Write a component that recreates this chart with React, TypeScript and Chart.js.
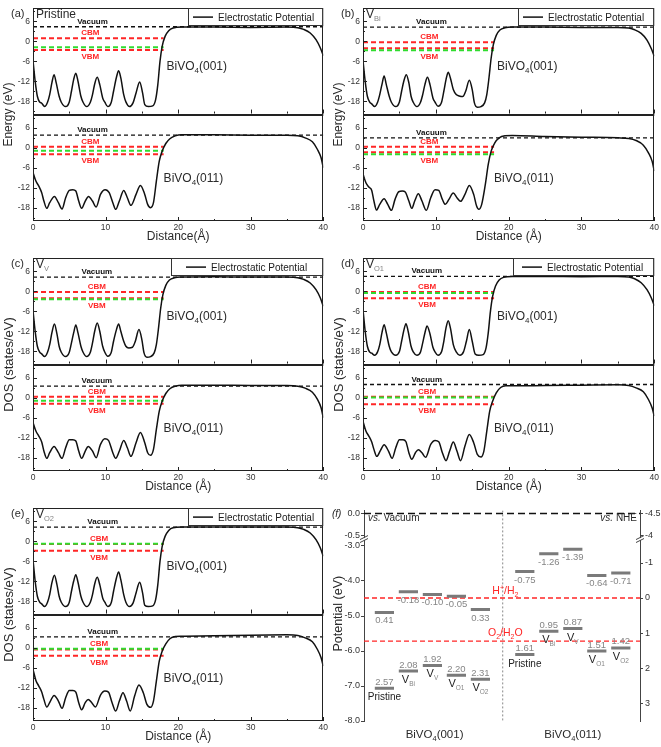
import React, { useEffect, useRef } from 'react';
import { Chart, registerables, LinearScale } from 'chart.js';

Chart.register(...registerables);

const FONT = 'Arial, "Liberation Sans", Helvetica, sans-serif';
const RED = '#ff2626';
const GREEN = '#2fdc2f';
const INK = '#222222';
const GREY = '#858585';

// ---------------- panels (a)-(e): electrostatic potential, x in Å, y in eV ----------------
type Pt = [number, number];
const distanceTicks = [0, 10, 20, 30, 40];
const distanceMinor = [5, 15, 25, 35];
const energyTicks = [-18, -12, -6, 0, 6];
const energyMinor = [-21, -15, -9, -3, 3, 9];
const energyMin = -22;
const energyMax = 10;
const bandEdgeEnd = 18;

const potPristine001: Pt[] = [[0,-5.8],[0.3,-12],[0.6,-16.5],[0.9,-18.2],[1.2,-18.6],[1.6,-19.6],[2.0,-18.3],[2.3,-16],[2.6,-12.5],[2.9,-10.0],[3.2,-12.5],[3.6,-16.5],[3.9,-18.3],[4.5,-19.6],[5.0,-18.2],[5.3,-15],[5.6,-11.5],[5.9,-9.6],[6.2,-12],[6.6,-16.5],[6.9,-18.3],[7.4,-19.6],[7.9,-18.3],[8.2,-16],[8.5,-12.8],[8.85,-10.8],[9.2,-13],[9.6,-17],[9.9,-18.3],[10.3,-19.6],[10.8,-18.2],[11.1,-15],[11.5,-10.8],[11.8,-8.8],[12.1,-11],[12.5,-16],[12.8,-18.2],[13.3,-19.6],[13.8,-18.4],[14.2,-15.5],[14.7,-12.2],[15.1,-15.5],[15.4,-19],[15.9,-19.6],[16.5,-19.4],[16.9,-17.5],[17.2,-13],[17.5,-6],[17.8,-1.5],[18.2,1.5],[18.7,3.2],[19.3,4.0],[20.5,4.3],[25,4.3],[30,4.2],[35,4.3],[36.5,4.1],[37.3,3.6],[38.2,2.5],[39,0.5],[39.6,-2],[40,-4.3]];
const potPristine011: Pt[] = [[0,-7.4],[0.4,-10],[0.8,-11.5],[1.2,-13.5],[1.5,-16],[1.9,-18.2],[2.3,-16.5],[2.95,-14.6],[3.5,-16.5],[4.0,-18.4],[4.5,-15],[5.0,-12.8],[5.5,-12.6],[5.9,-13],[6.3,-16],[6.7,-18.2],[7.2,-16],[7.65,-14.6],[8.2,-16],[8.7,-17.8],[9.3,-14],[9.95,-12.6],[10.5,-13.5],[11.0,-16.5],[11.4,-18.5],[11.9,-16],[12.5,-12.8],[13.0,-15],[13.5,-17.3],[14.2,-14],[14.8,-11.3],[15.4,-14],[15.8,-17],[16.2,-18],[16.6,-16.5],[17.0,-10],[17.4,-4],[17.8,-1],[18.3,1.3],[18.9,2.8],[19.6,3.6],[20.5,3.9],[25,3.9],[30,3.8],[35,3.8],[36.5,3.6],[37.5,3.0],[38.5,1.8],[39.2,-0.5],[39.7,-3],[40,-6]];
const potVBi001: Pt[] = [[0,-5.8],[0.3,-12],[0.6,-16.5],[0.9,-18.2],[1.2,-18.8],[1.6,-19.6],[2.0,-18.3],[2.3,-16],[2.6,-13],[2.9,-10.4],[3.2,-13],[3.6,-16.5],[3.9,-18.3],[4.5,-19.6],[5.0,-18.2],[5.3,-15],[5.6,-12],[5.95,-10.0],[6.3,-12.5],[6.6,-16.5],[6.9,-18.3],[7.4,-19.6],[7.9,-18.3],[8.2,-16],[8.5,-13],[8.85,-10.8],[9.2,-13],[9.6,-17],[9.9,-18.3],[10.3,-19.5],[10.8,-18.2],[11.1,-15],[11.4,-11.5],[11.7,-9.3],[12.0,-11],[12.4,-14.5],[12.8,-16],[13.2,-16.4],[13.7,-16.6],[14.1,-15],[14.6,-11.7],[15.0,-14.5],[15.3,-18.5],[15.7,-19.8],[16.2,-19.6],[16.7,-18.5],[17.0,-16],[17.3,-11],[17.6,-5],[17.9,-1],[18.3,1.8],[18.8,3.4],[19.5,4.1],[20.5,4.3],[25,4.3],[30,4.2],[35,4.2],[36.5,4.0],[37.3,3.5],[38.2,2.4],[39,0.4],[39.6,-2.2],[40,-4.5]];
const potVBi011: Pt[] = [[0,-7.9],[0.4,-10.5],[0.8,-11.8],[1.2,-12.8],[1.5,-16],[1.85,-18.7],[2.3,-17],[2.9,-15.3],[3.4,-17],[3.9,-18.8],[4.4,-15.5],[4.9,-13.2],[5.4,-13],[5.8,-13.3],[6.3,-16],[6.7,-18.2],[7.1,-16],[7.6,-13.8],[8.1,-16],[8.7,-18.8],[9.3,-15],[9.9,-12.6],[10.4,-12.8],[10.9,-15.5],[11.3,-17],[11.8,-15.5],[12.4,-13.6],[12.9,-15],[13.4,-16.1],[14.0,-14],[14.6,-11.3],[15.2,-14],[15.6,-17.5],[15.9,-18.5],[16.3,-17],[16.8,-11],[17.2,-5],[17.6,-1],[18.1,1.5],[18.7,3.0],[19.5,3.6],[20.5,3.7],[25,3.4],[30,3.2],[35,3.0],[36.5,2.8],[37.5,2.2],[38.5,0.8],[39.2,-1.5],[39.7,-4],[40,-7]];
const potVV001: Pt[] = [[0,-5.8],[0.3,-12],[0.6,-16.5],[0.9,-18.2],[1.2,-18.8],[1.6,-19.6],[2.0,-18.3],[2.3,-16],[2.6,-12.5],[2.95,-9.8],[3.3,-12.8],[3.6,-16.5],[3.9,-18.3],[4.5,-19.6],[5.0,-18.3],[5.3,-15.5],[5.6,-12.5],[5.9,-10.1],[6.2,-12.5],[6.6,-16.5],[6.9,-18.3],[7.4,-19.6],[7.9,-18.3],[8.2,-15.5],[8.5,-12],[8.85,-9.5],[9.2,-12],[9.6,-16.5],[9.9,-18.3],[10.3,-19.5],[10.8,-18.2],[11.1,-15],[11.5,-11.5],[11.8,-9.8],[12.1,-12],[12.5,-15],[12.8,-16.5],[13.2,-17],[13.7,-16.8],[14.1,-15],[14.6,-11.5],[15.0,-14.5],[15.3,-18.5],[15.7,-19.8],[16.2,-19.6],[16.7,-18.5],[17.0,-16],[17.3,-11],[17.6,-5],[17.9,-1],[18.3,1.8],[18.8,3.4],[19.5,4.1],[20.5,4.3],[25,4.4],[30,4.3],[35,4.3],[36.5,4.1],[37.3,3.6],[38.2,2.5],[39,0.5],[39.6,-2],[40,-4.5]];
const potVV011: Pt[] = [[0,-7.4],[0.4,-10],[0.8,-11.5],[1.2,-13.3],[1.5,-16],[1.9,-18.2],[2.3,-16.5],[2.9,-14.6],[3.5,-16.5],[4.0,-18.2],[4.5,-15],[5.0,-12.6],[5.5,-12.6],[5.9,-13],[6.3,-16],[6.7,-18.2],[7.2,-16],[7.6,-14.6],[8.2,-16],[8.7,-18],[9.3,-14],[9.9,-12.3],[10.4,-12.8],[11.0,-16.5],[11.4,-18.2],[11.9,-16],[12.5,-12.8],[13.0,-15],[13.5,-17.6],[14.2,-13.5],[14.8,-10.4],[15.4,-13.5],[15.8,-16.5],[16.2,-17.3],[16.6,-15.5],[17.0,-9.5],[17.4,-4],[17.8,-1],[18.3,1.3],[18.9,2.8],[19.6,3.5],[20.5,3.8],[25,3.8],[30,3.7],[35,3.7],[36.5,3.5],[37.5,2.9],[38.5,1.7],[39.2,-0.5],[39.7,-3],[40,-6]];
const potVO1_001: Pt[] = [[0,-5.5],[0.3,-12],[0.6,-16.5],[0.9,-18.2],[1.2,-18.6],[1.6,-19.2],[2.0,-18.2],[2.3,-16],[2.6,-12.5],[2.9,-10.0],[3.2,-12.5],[3.6,-16.5],[3.9,-18.2],[4.5,-19.2],[5.0,-18.1],[5.3,-15],[5.6,-11.8],[5.9,-9.7],[6.2,-12],[6.6,-16.5],[6.9,-18.2],[7.4,-19.2],[7.9,-18.2],[8.2,-15.5],[8.5,-12.5],[8.8,-10.4],[9.2,-12.8],[9.6,-16.8],[9.9,-18.2],[10.3,-19.2],[10.8,-18.1],[11.1,-15],[11.4,-11],[11.7,-8.8],[12.0,-11],[12.4,-16],[12.8,-18.2],[13.3,-19.2],[13.8,-18.2],[14.2,-15],[14.6,-11.5],[15.0,-15],[15.4,-18.8],[15.9,-19.2],[16.5,-19],[16.9,-17],[17.2,-12.5],[17.5,-6],[17.8,-1.5],[18.2,1.6],[18.7,3.4],[19.3,4.2],[20.5,4.5],[25,4.5],[30,4.4],[35,4.5],[36.5,4.3],[37.3,3.8],[38.2,2.6],[39,0.5],[39.6,-2],[40,-4.3]];
const potVO1_011: Pt[] = [[0,-7],[0.4,-10],[0.8,-11.5],[1.2,-13.3],[1.5,-15.5],[1.9,-17.6],[2.4,-15.8],[2.9,-14.1],[3.5,-16],[4.0,-18.2],[4.5,-15],[5.0,-12.6],[5.5,-12.6],[5.9,-13.2],[6.3,-16.5],[6.7,-18.5],[7.2,-16.5],[7.6,-15.6],[8.1,-16.5],[8.6,-17.9],[9.3,-14],[9.9,-12.8],[10.4,-13.2],[10.9,-16.5],[11.4,-18.9],[11.9,-16],[12.4,-13.3],[12.9,-16],[13.4,-18.9],[14.0,-14.5],[14.6,-11],[15.2,-13.5],[15.7,-17],[16.2,-17.8],[16.6,-16],[17.0,-10],[17.4,-4],[17.8,-1],[18.3,1.5],[18.9,3.1],[19.6,3.6],[20.5,3.6],[25,3.7],[30,3.8],[35,3.9],[36.5,3.7],[37.5,3.0],[38.5,1.8],[39.2,-0.5],[39.7,-3],[40,-5.5]];
const potVO2_001: Pt[] = [[0,-5.5],[0.3,-12],[0.6,-16.5],[0.9,-18.2],[1.2,-18.8],[1.6,-19.6],[2.0,-18.3],[2.3,-16],[2.6,-12.5],[2.95,-10.2],[3.3,-13],[3.6,-16.5],[3.9,-18.3],[4.5,-19.6],[5.0,-18.3],[5.3,-15],[5.6,-12],[5.9,-10.0],[6.2,-12.3],[6.6,-16.5],[6.9,-18.3],[7.4,-19.6],[7.9,-18.3],[8.2,-16],[8.5,-12.8],[8.85,-10.8],[9.2,-13],[9.6,-17],[9.9,-18.3],[10.3,-19.6],[10.8,-18.3],[11.1,-15],[11.5,-11],[11.8,-9.2],[12.1,-11.5],[12.5,-16],[12.8,-18.3],[13.3,-19.6],[13.8,-18.5],[14.2,-15.5],[14.7,-12.3],[15.1,-15.5],[15.4,-19.2],[15.9,-19.6],[16.5,-19.4],[16.9,-17.5],[17.2,-13],[17.5,-6],[17.8,-1.5],[18.2,1.5],[18.7,3.3],[19.3,4.1],[20.5,4.3],[25,4.3],[30,4.3],[35,4.3],[36.5,4.1],[37.3,3.6],[38.2,2.5],[39,0.5],[39.6,-2],[40,-4.5]];
const potVO2_011: Pt[] = [[0,-6.5],[0.4,-9.8],[0.8,-11.5],[1.2,-13.3],[1.5,-15.5],[1.9,-17.8],[2.4,-16],[2.9,-14.3],[3.5,-16],[4.0,-18.2],[4.5,-15],[5.0,-12.8],[5.5,-12.8],[5.9,-13.3],[6.3,-16.5],[6.7,-18.6],[7.2,-16.5],[7.6,-15.5],[8.1,-16.5],[8.6,-17.8],[9.3,-14.2],[9.9,-13],[10.4,-13.3],[10.9,-16.5],[11.4,-19],[11.9,-16],[12.4,-13.5],[12.9,-16],[13.4,-19],[14.0,-14.5],[14.6,-11.2],[15.2,-13.5],[15.7,-17],[16.2,-17.9],[16.6,-16],[17.0,-10],[17.4,-4],[17.8,-1],[18.3,1.2],[18.9,2.8],[19.6,3.4],[20.5,3.5],[25,3.6],[30,3.8],[35,3.9],[36.5,3.7],[37.5,3.0],[38.5,1.8],[39.2,-0.5],[39.7,-3],[40,-5.5]];

// band-edge / vacuum levels drawn in each sub-plot (eV)
const vacuum001 = [4.4, 4.3, 4.3, 4.5, 4.3];
const cbm001 = [0.9, -0.3, -0.2, -0.2, -0.8];
const green001 = [-1.8, -2.7, -2.4, -0.5, -0.7];
const vbm001 = [-2.6, -2.1, -2.1, -2.1, -2.8];
const vacuum011 = [3.8, 3.0, 3.5, 4.0, 3.3];
const cbm011 = [0.3, 0.3, 0.3, 0.3, -0.5];
const green011 = [-0.9, -1.9, -0.9, 0.1, -0.3];
const vbm011 = [-1.9, -1.3, -1.8, -1.9, -2.4];

const panelTags = ['(a)', '(b)', '(c)', '(d)', '(e)'];
const defectMain = ['Pristine', 'V', 'V', 'V', 'V'];
const defectSub = ['', 'Bi', 'V', 'O1', 'O2'];
const yTitles = ['Energy (eV)', 'Energy (eV)', 'DOS (states/eV)', 'DOS (states/eV)', 'DOS (states/eV)'];
const xTitles = ['Distance(Å)', 'Distance (Å)', 'Distance (Å)', 'Distance (Å)', 'Distance (Å)'];
const curves001 = [potPristine001, potVBi001, potVV001, potVO1_001, potVO2_001];
const curves011 = [potPristine011, potVBi011, potVV011, potVO1_011, potVO2_011];

// ---------------- panel (f): band alignment, values vs. NHE (V) ----------------
const cbNHE001 = [0.41, -0.18, -0.10, -0.05, 0.33];
const vbNHE001 = [2.57, 2.08, 1.92, 2.20, 2.31];
const cbNHE011 = [-0.75, -1.26, -1.39, -0.64, -0.71];
const vbNHE011 = [1.61, 0.95, 0.87, 1.51, 1.42];
const levelMain = ['Pristine', 'V', 'V', 'V', 'V'];
const levelSub = ['', 'Bi', 'V', 'O1', 'O2'];
const NHE_ZERO_VS_VAC = -4.5;
const H2_NHE = 0;
const O2_NHE = 1.23;
const vacTicks = [0, -0.5, -3, -4, -5, -6, -7, -8];
const nheTicks = [-4.5, -4, -1, 0, 1, 2, 3];
const toVac = (nhe: number) => NHE_ZERO_VS_VAC - nhe;

// broken potential axis: upper piece [-0.55, 0.07], lower piece [-8, -2.865]
const BRK = { upMin: -0.55, upMax: 0.07, loMin: -8, loMax: -2.865, upFrac: 0.129, gapFrac: 0.014 };

class BrokenLinearScale extends LinearScale {
  static id = 'brokenLinear';
  getPixelForValue(value: any) {
    if (value === null || value === undefined || isNaN(value)) return NaN;
    const h = (this as any).bottom - (this as any).top;
    let f: number;
    if (value >= BRK.upMin) f = ((BRK.upMax - value) / (BRK.upMax - BRK.upMin)) * BRK.upFrac;
    else if (value <= BRK.loMax)
      f = BRK.upFrac + BRK.gapFrac + ((BRK.loMax - value) / (BRK.loMax - BRK.loMin)) * (1 - BRK.upFrac - BRK.gapFrac);
    else f = BRK.upFrac + ((BRK.upMin - value) / (BRK.upMin - BRK.loMax)) * BRK.gapFrac;
    return (this as any).top + f * h;
  }
  getValueForPixel(pixel: number) {
    const f = (pixel - (this as any).top) / ((this as any).bottom - (this as any).top);
    if (f <= BRK.upFrac) return BRK.upMax - (f / BRK.upFrac) * (BRK.upMax - BRK.upMin);
    if (f >= BRK.upFrac + BRK.gapFrac)
      return BRK.loMax - ((f - BRK.upFrac - BRK.gapFrac) / (1 - BRK.upFrac - BRK.gapFrac)) * (BRK.loMax - BRK.loMin);
    return BRK.upMin - ((f - BRK.upFrac) / BRK.gapFrac) * (BRK.upMin - BRK.loMax);
  }
}
Chart.register(BrokenLinearScale as any);

// ---------------- helpers ----------------
type Part = { t: string; size: number; dy?: number; color?: string; italic?: boolean; bold?: boolean };
function drawRich(ctx: CanvasRenderingContext2D, parts: Part[], x: number, y: number, align: 'left' | 'center' | 'right' = 'left', color = INK) {
  ctx.save();
  ctx.textBaseline = 'alphabetic';
  ctx.textAlign = 'left';
  const fontOf = (p: Part) => `${p.italic ? 'italic ' : ''}${p.bold ? 'bold ' : ''}${p.size}px ${FONT}`;
  let w = 0;
  for (const p of parts) { ctx.font = fontOf(p); w += ctx.measureText(p.t).width; }
  let cx = align === 'left' ? x : align === 'center' ? x - w / 2 : x - w;
  for (const p of parts) {
    ctx.font = fontOf(p);
    ctx.fillStyle = p.color || color;
    ctx.fillText(p.t, cx, y + (p.dy || 0));
    cx += ctx.measureText(p.t).width;
  }
  ctx.restore();
}
function seg(ctx: CanvasRenderingContext2D, x1: number, y1: number, x2: number, y2: number) {
  ctx.beginPath(); ctx.moveTo(x1, y1); ctx.lineTo(x2, y2); ctx.stroke();
}
function vText(ctx: CanvasRenderingContext2D, text: string, x: number, y: number, size: number) {
  ctx.save();
  ctx.translate(x, y);
  ctx.rotate(-Math.PI / 2);
  ctx.font = `${size}px ${FONT}`;
  ctx.fillStyle = '#2a2a2a';
  ctx.textAlign = 'center';
  ctx.textBaseline = 'middle';
  ctx.fillText(text, 0, 0);
  ctx.restore();
}
const xy = (pts: Pt[]) => pts.map(([x, y]) => ({ x, y }));
const hline = (y: number, x0: number, x1: number) => [{ x: x0, y }, { x: x1, y }];

// ---------------- layout (page pixels) ----------------
const potLayout = [
  { x: 0, y: 0, w: 330, h: 250, legendLeft: 188, legendText: 218, vacX: 8.2, edgeX: 7.9 },
  { x: 330, y: 0, w: 331, h: 250, legendLeft: 188, legendText: 218, vacX: 9.4, edgeX: 9.1 },
  { x: 0, y: 250, w: 330, h: 250, legendLeft: 171, legendText: 211, vacX: 8.8, edgeX: 8.8 },
  { x: 330, y: 250, w: 331, h: 250, legendLeft: 183, legendText: 217, vacX: 8.75, edgeX: 8.8 },
  { x: 0, y: 500, w: 330, h: 247, legendLeft: 188, legendText: 218, vacX: 9.6, edgeX: 9.1 },
];
const fLayout = { x: 330, y: 500, w: 331, h: 247 };
const slots001 = [0.85, 1.85, 2.85, 3.85, 4.85];
const slots011 = [6.7, 7.7, 8.7, 9.7, 10.7];
const slotHalf = 0.4;
const dividerX = 5.78;
const fXMax = 11.5;

function potDecor(i: number) {
  return {
    id: 'potDecor' + i,
    afterDraw(chart: any) {
      const ctx: CanvasRenderingContext2D = chart.ctx;
      const xs = chart.scales.x, yT = chart.scales.yT, yB = chart.scales.yB;
      const { left, right } = chart.chartArea;
      const top = yT.top, mid = yT.bottom, bot = yB.bottom;
      const L = potLayout[i];
      ctx.save();
      ctx.strokeStyle = INK;
      ctx.lineWidth = 1;
      ctx.strokeRect(Math.round(left) + 0.5, Math.round(top) + 0.5, Math.round(right - left) - 1, Math.round(bot - top) - 1);
      ctx.lineWidth = 2;
      seg(ctx, left, Math.round(mid), right, Math.round(mid));
      ctx.lineWidth = 1;
      for (const t of distanceTicks) {
        const px = Math.round(xs.getPixelForValue(t)) + 0.5;
        seg(ctx, px, bot, px, bot - 4);
        seg(ctx, px, mid - 1, px, mid - 5);
      }
      for (const t of distanceMinor) {
        const px = Math.round(xs.getPixelForValue(t)) + 0.5;
        seg(ctx, px, bot, px, bot - 2);
        seg(ctx, px, mid - 1, px, mid - 3);
      }
      for (const ys of [yT, yB]) {
        for (const t of energyTicks) {
          const py = Math.round(ys.getPixelForValue(t)) + 0.5;
          seg(ctx, left, py, left + 4, py);
        }
        for (const t of energyMinor) {
          const py = Math.round(ys.getPixelForValue(t)) + 0.5;
          if (py > ys.top + 2 && py < ys.bottom - 2) seg(ctx, left, py, left + 2, py);
        }
      }
      // legend box
      ctx.fillStyle = '#fff';
      ctx.fillRect(L.legendLeft, top + 1, right - L.legendLeft - 1, 16);
      ctx.strokeStyle = '#333';
      ctx.strokeRect(L.legendLeft + 0.5, Math.round(top) + 0.5, right - L.legendLeft - 1, 17);
      ctx.strokeStyle = '#111';
      ctx.lineWidth = 1.5;
      seg(ctx, L.legendText - 25, top + 9, L.legendText - 5, top + 9);
      drawRich(ctx, [{ t: 'Electrostatic Potential', size: 10 }], L.legendText, top + 12.5, 'left', '#1a1a1a');
      // level labels
      const rows = [
        { ys: yT, vac: vacuum001[i], cbm: cbm001[i], grn: green001[i], vbm: vbm001[i] },
        { ys: yB, vac: vacuum011[i], cbm: cbm011[i], grn: green011[i], vbm: vbm011[i] },
      ];
      for (const r of rows) {
        drawRich(ctx, [{ t: 'Vacuum', size: 8, bold: true }], xs.getPixelForValue(L.vacX), r.ys.getPixelForValue(r.vac) - 3, 'center', '#111');
        drawRich(ctx, [{ t: 'CBM', size: 8, bold: true }], xs.getPixelForValue(L.edgeX), r.ys.getPixelForValue(r.cbm) - 3, 'center', RED);
        const low = Math.max(r.ys.getPixelForValue(r.vbm), r.ys.getPixelForValue(r.grn));
        drawRich(ctx, [{ t: 'VBM', size: 8, bold: true }], xs.getPixelForValue(L.edgeX), low + 9, 'center', RED);
      }
      drawRich(ctx, [{ t: 'BiVO', size: 12 }, { t: '4', size: 8, dy: 3 }, { t: '(001)', size: 12 }], xs.getPixelForValue(18.4), yT.getPixelForValue(-8.6), 'left', '#2a2a2a');
      drawRich(ctx, [{ t: 'BiVO', size: 12 }, { t: '4', size: 8, dy: 3 }, { t: '(011)', size: 12 }], xs.getPixelForValue(18.0), yB.getPixelForValue(-10.3), 'left', '#2a2a2a');
      // panel tag and defect name
      drawRich(ctx, [{ t: panelTags[i], size: 11 }], 11, top + 8.5, 'left', '#2a2a2a');
      if (defectSub[i] === '') {
        drawRich(ctx, [{ t: defectMain[i], size: 12 }], left + 3, top + 9.5, 'left', '#2a2a2a');
      } else {
        drawRich(ctx, [{ t: defectMain[i], size: 12 }, { t: defectSub[i], size: 7.5, dy: 3, color: GREY }], left + 3, top + 9.5, 'left', '#2a2a2a');
      }
      // axis titles
      vText(ctx, yTitles[i], 9, (top + bot) / 2, i < 2 ? 12 : 13);
      drawRich(ctx, [{ t: xTitles[i], size: 12 }], (left + right) / 2, 240, 'center', '#2a2a2a');
      ctx.restore();
    },
  };
}

function PotPanel({ idx }: { idx: number }) {
  const ref = useRef<HTMLCanvasElement>(null);
  const L = potLayout[idx];
  useEffect(() => {
    const dashed = (data: any, yAxisID: string, color: string, width: number, dash: number[]) => ({
      data, yAxisID, borderColor: color, borderWidth: width, borderDash: dash, pointRadius: 0, fill: false,
    });
    const tickFont = { family: FONT, size: 8.5 };
    const yScale = (weight: number) => ({
      type: 'linear', position: 'left', stack: 'pot', stackWeight: 1, weight,
      min: energyMin, max: energyMax,
      grid: { display: false, drawTicks: false }, border: { display: false },
      ticks: { font: tickFont, color: '#333', padding: 3 },
      afterBuildTicks: (s: any) => { s.ticks = energyTicks.map((v) => ({ value: v })); },
      afterFit: (s: any) => { s.width = 33; },
    });
    const chart = new Chart(ref.current as HTMLCanvasElement, {
      type: 'line',
      data: {
        datasets: [
          { data: xy(curves001[idx]), yAxisID: 'yT', borderColor: '#111', borderWidth: 1.5, pointRadius: 0, cubicInterpolationMode: 'monotone', fill: false },
          { data: xy(curves011[idx]), yAxisID: 'yB', borderColor: '#111', borderWidth: 1.5, pointRadius: 0, cubicInterpolationMode: 'monotone', fill: false },
          dashed(hline(green001[idx], 0, bandEdgeEnd), 'yT', GREEN, 2, [5, 3]),
          dashed(hline(green011[idx], 0, bandEdgeEnd), 'yB', GREEN, 2, [5, 3]),
          dashed(hline(cbm001[idx], 0, bandEdgeEnd), 'yT', RED, 2, [5, 3]),
          dashed(hline(vbm001[idx], 0, bandEdgeEnd), 'yT', RED, 2, [5, 3]),
          dashed(hline(cbm011[idx], 0, bandEdgeEnd), 'yB', RED, 2, [5, 3]),
          dashed(hline(vbm011[idx], 0, bandEdgeEnd), 'yB', RED, 2, [5, 3]),
          dashed(hline(vacuum001[idx], 0, 40), 'yT', '#111', 1.3, [4, 3]),
          dashed(hline(vacuum011[idx], 0, 40), 'yB', '#111', 1.3, [4, 3]),
        ] as any,
      },
      options: {
        responsive: false,
        animation: false,
        devicePixelRatio: 1,
        events: [],
        layout: { padding: { top: 5, right: 6, left: 0, bottom: 0 } },
        plugins: { legend: { display: false }, tooltip: { enabled: false } },
        scales: {
          x: {
            type: 'linear', position: 'bottom', min: 0, max: 40,
            grid: { display: false, drawTicks: false }, border: { display: false },
            ticks: { font: tickFont, color: '#333', padding: 2, maxRotation: 0 },
            afterBuildTicks: (s: any) => { s.ticks = distanceTicks.map((v) => ({ value: v })); },
            afterFit: (s: any) => { s.height = L.h - 221; },
          },
          yT: yScale(2),
          yB: yScale(1),
        } as any,
      },
      plugins: [potDecor(idx)],
    } as any);
    return () => chart.destroy();
  }, [idx]);
  return <canvas ref={ref} width={L.w} height={L.h} style={{ position: 'absolute', left: L.x, top: L.y, width: L.w, height: L.h }} />;
}

const fDecor = {
  id: 'fDecor',
  afterDraw(chart: any) {
    const ctx: CanvasRenderingContext2D = chart.ctx;
    const xs = chart.scales.x, yL = chart.scales.yL, yR = chart.scales.yR;
    const { left, right, top, bottom } = chart.chartArea;
    ctx.save();
    ctx.strokeStyle = '#444';
    ctx.lineWidth = 1;
    for (const t of vacTicks) {
      const py = Math.round(yL.getPixelForValue(t)) + 0.5;
      seg(ctx, left - 3, py, left, py);
    }
    for (const n of nheTicks) {
      const py = Math.round(yR.getPixelForValue(toVac(n))) + 0.5;
      seg(ctx, right, py, right + 3, py);
    }
    // axis breaks
    const p1 = yL.getPixelForValue(BRK.upMin), p2 = yL.getPixelForValue(BRK.loMax);
    for (const ax of [left, right]) {
      ctx.fillStyle = '#fff';
      ctx.fillRect(ax - 3, p1 + 0.5, 6, p2 - p1 - 1);
      ctx.strokeStyle = '#444';
      seg(ctx, ax - 4, p1 + 2, ax + 4, p1 - 2);
      seg(ctx, ax - 4, p2 + 2, ax + 4, p2 - 2);
    }
    // level labels
    const groups = [
      { slots: slots001, cb: cbNHE001, vb: vbNHE001 },
      { slots: slots011, cb: cbNHE011, vb: vbNHE011 },
    ];
    for (const g of groups) {
      g.slots.forEach((s, k) => {
        const cx = xs.getPixelForValue(s);
        const pc = yL.getPixelForValue(toVac(g.cb[k]));
        const pv = yL.getPixelForValue(toVac(g.vb[k]));
        drawRich(ctx, [{ t: g.cb[k].toFixed(2), size: 9.5 }], cx, pc + 11, 'center', GREY);
        drawRich(ctx, [{ t: g.vb[k].toFixed(2), size: 9.5 }], cx, pv - 3.5, 'center', GREY);
        if (levelSub[k] === '') drawRich(ctx, [{ t: levelMain[k], size: 10 }], cx, pv + 12, 'center', INK);
        else drawRich(ctx, [{ t: levelMain[k], size: 11 }, { t: levelSub[k], size: 6.5, dy: 3, color: GREY }], cx, pv + 12, 'center', INK);
      });
    }
    // redox labels
    const lx = xs.getPixelForValue(5.89);
    drawRich(ctx, [{ t: 'H', size: 10.5 }, { t: '+', size: 7, dy: -4 }, { t: '/H', size: 10.5 }, { t: '2', size: 7, dy: 3 }], lx, yL.getPixelForValue(toVac(H2_NHE)) - 3.5, 'center', RED);
    drawRich(ctx, [{ t: 'O', size: 10.5 }, { t: '2', size: 7, dy: 3 }, { t: '/H', size: 10.5 }, { t: '2', size: 7, dy: 3 }, { t: 'O', size: 10.5 }], lx, yL.getPixelForValue(toVac(O2_NHE)) - 5, 'center', RED);
    // corner texts
    drawRich(ctx, [{ t: '(f)', size: 10, italic: true }], 2, 16.5, 'left', '#2a2a2a');
    drawRich(ctx, [{ t: 'vs.', size: 10, italic: true }, { t: ' Vacuum', size: 10 }], left + 4, 20.5, 'left', '#2a2a2a');
    drawRich(ctx, [{ t: 'vs.', size: 10, italic: true }, { t: ' NHE', size: 10 }], right - 3, 20.5, 'right', '#2a2a2a');
    // axis titles
    vText(ctx, 'Potential (eV)', 9, (top + bottom) / 2 - 2, 12.5);
    const bl = 237.5;
    drawRich(ctx, [{ t: 'BiVO', size: 11.5 }, { t: '4', size: 7.5, dy: 3 }, { t: '(001)', size: 11.5 }], xs.getPixelForValue(2.94), bl, 'center', '#2a2a2a');
    drawRich(ctx, [{ t: 'BiVO', size: 11.5 }, { t: '4', size: 7.5, dy: 3 }, { t: '(011)', size: 11.5 }], xs.getPixelForValue(8.7), bl, 'center', '#2a2a2a');
    ctx.restore();
  },
};

function AlignPanel() {
  const ref = useRef<HTMLCanvasElement>(null);
  useEffect(() => {
    const bars = (slots: number[], vals: number[]) =>
      slots.flatMap((s, k) => [
        { x: s - slotHalf, y: toVac(vals[k]) },
        { x: s + slotHalf, y: toVac(vals[k]) },
        { x: s + slotHalf, y: null },
      ]);
    const tickFont = { family: FONT, size: 9 };
    const axis = (position: string, width: number, fmt: (v: number) => string, ticks: number[]) => ({
      type: 'brokenLinear', position, min: BRK.loMin, max: BRK.upMax,
      grid: { display: false, drawTicks: false },
      border: { display: true, color: '#444', width: 1 },
      ticks: { font: tickFont, color: '#333', padding: position === 'left' ? 4 : 5, autoSkip: false, callback: (v: any) => fmt(Number(v)) },
      afterBuildTicks: (s: any) => { s.ticks = ticks.map((v) => ({ value: v })); },
      afterFit: (s: any) => { s.width = width; },
    });
    const lineDs = (data: any, color: string, width: number, dash: number[]) => ({
      data, yAxisID: 'yL', borderColor: color, borderWidth: width, borderDash: dash, pointRadius: 0, fill: false, spanGaps: false,
    });
    const chart = new Chart(ref.current as HTMLCanvasElement, {
      type: 'line',
      data: {
        datasets: [
          lineDs(bars(slots001, cbNHE001), '#7a7a7a', 3, []),
          lineDs(bars(slots001, vbNHE001), '#7a7a7a', 3, []),
          lineDs(bars(slots011, cbNHE011), '#7a7a7a', 3, []),
          lineDs(bars(slots011, vbNHE011), '#7a7a7a', 3, []),
          lineDs(hline(toVac(H2_NHE), 0, fXMax), RED, 1.3, [5, 3]),
          lineDs(hline(toVac(O2_NHE), 0, fXMax), RED, 1.3, [5, 3]),
          lineDs(hline(0, 0, fXMax), '#111', 1.5, [7, 4]),
          lineDs([{ x: dividerX, y: BRK.upMax }, { x: dividerX, y: BRK.loMin }], '#888', 1, [2, 2]),
        ] as any,
      },
      options: {
        responsive: false,
        animation: false,
        devicePixelRatio: 1,
        events: [],
        layout: { padding: { top: 8, bottom: 26, left: 0, right: 0 } },
        plugins: { legend: { display: false }, tooltip: { enabled: false } },
        scales: {
          x: { type: 'linear', min: 0, max: fXMax, display: false },
          yL: axis('left', 34, (v) => v.toFixed(1), vacTicks),
          yR: axis('right', 21, (v) => {
            const n = NHE_ZERO_VS_VAC - v;
            if (Math.abs(n) < 1e-9) return '0';
            return Math.abs(n - Math.round(n)) < 1e-9 ? String(Math.round(n)) : n.toFixed(1);
          }, nheTicks.map(toVac)),
        } as any,
      },
      plugins: [fDecor],
    } as any);
    return () => chart.destroy();
  }, []);
  return <canvas ref={ref} width={fLayout.w} height={fLayout.h} style={{ position: 'absolute', left: fLayout.x, top: fLayout.y, width: fLayout.w, height: fLayout.h }} />;
}

export default function App() {
  return (
    <div style={{ position: 'absolute', left: 0, top: 0, width: 661, height: 747, background: '#fff', overflow: 'hidden' }}>
      {[0, 1, 2, 3, 4].map((i) => <PotPanel key={i} idx={i} />)}
      <AlignPanel />
    </div>
  );
}
